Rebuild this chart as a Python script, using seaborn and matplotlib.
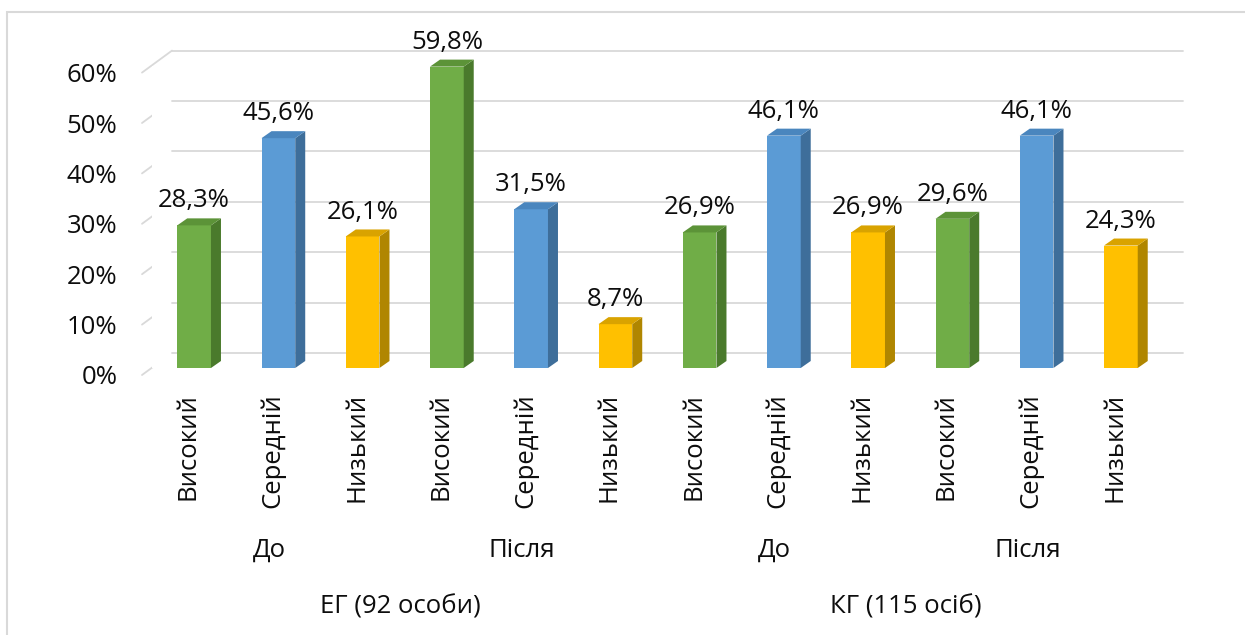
import seaborn as sns
import pandas as pd
import matplotlib.pyplot as plt
from matplotlib.patches import Polygon, Rectangle
from matplotlib.lines import Line2D
from matplotlib.transforms import ScaledTranslation, IdentityTransform

# chart data
levels = ["Високий", "Середній", "Низький"] * 4
values = [28.3, 45.6, 26.1, 59.8, 31.5, 8.7, 26.9, 46.1, 26.9, 29.6, 46.1, 24.3]
periods = ["До", "Після", "До", "Після"]
groups = ["ЕГ (92 особи)", "КГ (115 осіб)"]
yticks = [0, 10, 20, 30, 40, 50, 60]

front_colors = {"Високий": "#70AD47", "Середній": "#5B9BD5", "Низький": "#FFC000"}
side_colors = {"Високий": "#4A7A2C", "Середній": "#3E6E9A", "Низький": "#B08600"}
top_colors = {"Високий": "#5C9338", "Середній": "#4A86BE", "Низький": "#D9A300"}

df = pd.DataFrame({"pos": [str(i) for i in range(len(values))],
                   "level": levels, "value": values})

sns.set_style("white")
plt.rcParams["font.family"] = ["Open Sans", "DejaVu Sans"]
txt_color = "#0d0d0d"
fs = 18.5

W, H, DPI = 1245, 635, 100
fig = plt.figure(figsize=(W / DPI, H / DPI), dpi=DPI)
ax = fig.add_axes([152 / W, (H - 368) / H, 1011 / W, 302.4 / H])

sns.barplot(data=df, x="pos", y="value", hue="level", palette=front_colors,
            dodge=False, width=0.4, legend=False, ax=ax, saturation=1,
            linewidth=0, zorder=3)
ax.set_xlim(-0.5, len(values) - 0.5)
ax.set_ylim(0, 60)
for s in ax.spines.values():
    s.set_visible(False)
ax.set_xlabel("")
ax.set_ylabel("")

def px(dx, dy):
    return ScaledTranslation(dx / DPI, dy / DPI, fig.dpi_scale_trans)

# back wall gridlines and left slanted edges
grid_c = "#d9d9d9"
for v in yticks:
    ax.plot([-0.5, len(values) - 0.5], [v, v], color=grid_c, lw=1.3,
            transform=ax.transData + px(20, 15), clip_on=False, zorder=0)
    x0, y0 = ax.transData.transform((-0.5, v))
    fig.add_artist(Line2D([x0 - 10, x0 + 20], [y0 - 7, y0 + 15], color=grid_c,
                          lw=1.3, transform=IdentityTransform(), zorder=0))

# y tick labels
ax.set_yticks(yticks)
ax.set_yticklabels([f"{v}%" for v in yticks], fontsize=fs, color=txt_color)
ax.tick_params(axis="y", length=0, pad=25)
for lab in ax.get_yticklabels():
    lab.set_transform(lab.get_transform() + px(0, -7))

# x tick labels
ax.set_xticks(range(len(values)))
ax.set_xticklabels(levels, rotation=90, fontsize=fs, color=txt_color)
ax.tick_params(axis="x", length=0, pad=18)
for lab in ax.get_xticklabels():
    lab.set_transform(lab.get_transform() + px(-6, 0))

# group labels
for i, p in enumerate(periods):
    ax.text(3 * i + 1, -0.602, p, transform=ax.get_xaxis_transform() + px(-9, 0),
            ha="center", va="center", fontsize=fs, color=txt_color)
for i, g in enumerate(groups):
    ax.text(6 * i + 2.5, -0.79, g, transform=ax.get_xaxis_transform() + px(-4, 0),
            ha="center", va="center", fontsize=fs, color=txt_color)

# 3d side/top faces and data labels
dx, dy = 10, 7
for bar, lev in zip(sorted(ax.patches, key=lambda b: b.get_x()), levels):
    x = bar.get_x()
    w = bar.get_width()
    h = bar.get_height()
    (xl, yb), (xr, yt) = ax.transData.transform([(x, 0), (x + w, h)])
    side = Polygon([(xr, yb), (xr + dx, yb + dy), (xr + dx, yt + dy), (xr, yt)],
                   closed=True, facecolor=side_colors[lev], edgecolor="none",
                   transform=IdentityTransform(), zorder=3)
    top = Polygon([(xl, yt), (xl + dx, yt + dy), (xr + dx, yt + dy), (xr, yt)],
                  closed=True, facecolor=top_colors[lev], edgecolor="none",
                  transform=IdentityTransform(), zorder=3)
    fig.add_artist(side)
    fig.add_artist(top)
    ax.annotate(f"{h:.1f}%".replace(".", ","), (x + w / 2, h), xytext=(0, 8.6),
                textcoords="offset points", ha="center", va="bottom",
                fontsize=fs, color=txt_color, annotation_clip=False)

# chart border
fig.add_artist(Rectangle((7 / W, -0.1), 1.2, (H - 12) / H + 0.1,
                         transform=fig.transFigure, fill=False,
                         edgecolor="#d9d9d9", lw=1.5))

fig.savefig("out.png", dpi=DPI, facecolor="white")
